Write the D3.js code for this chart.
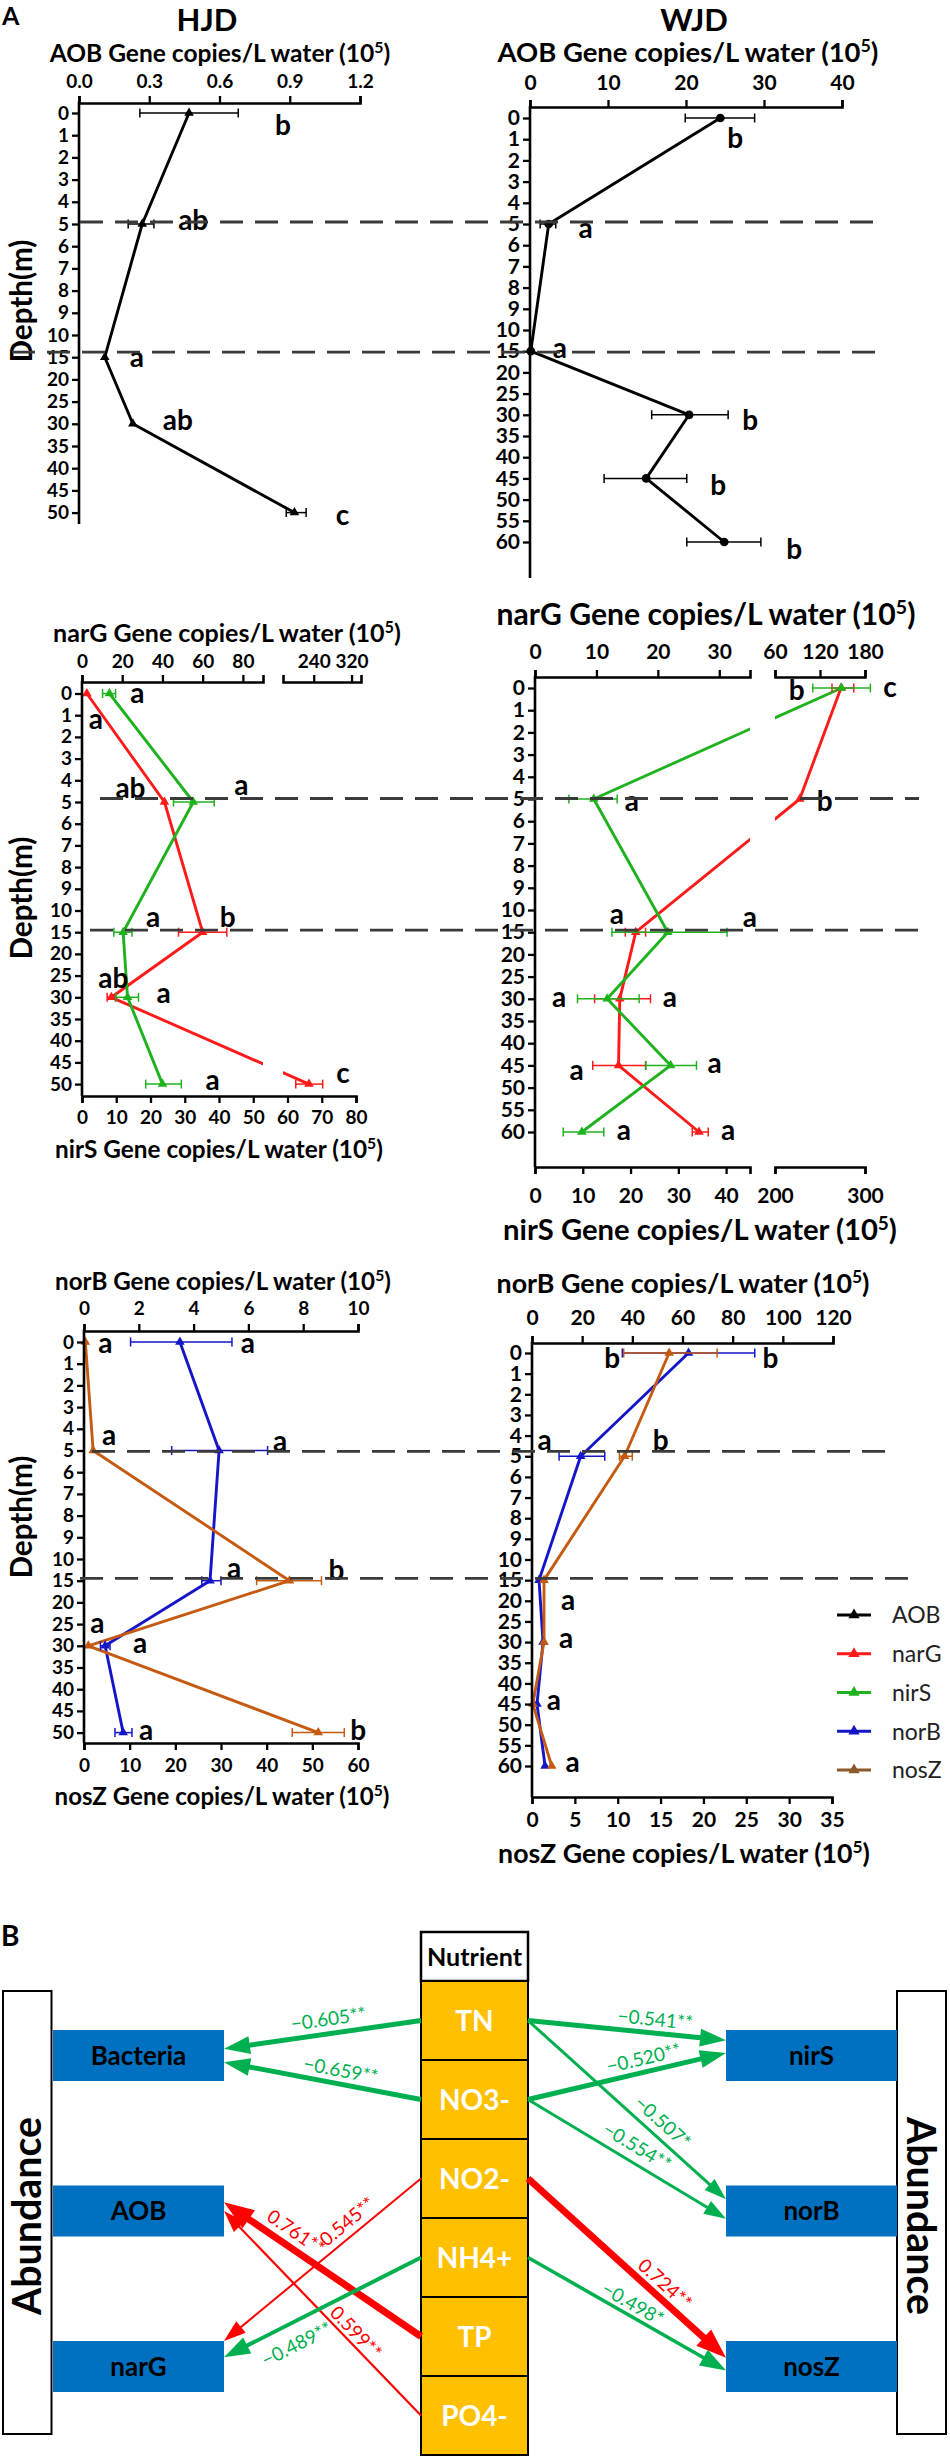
<!DOCTYPE html>
<html>
<head>
<meta charset="utf-8">
<script src="https://cdn.jsdelivr.net/npm/d3@7"></script>
<style>
    body { margin: 0; background: #fff; }
    text { font-family: Lato, "Open Sans", "DejaVu Sans", sans-serif; }
</style>
</head>
<body>
<svg id="chart" width="950" height="2458"></svg>
<script>
(function () {
    'use strict';

    // ---------- panel A data ----------
    var depthHJD = [0, 1, 2, 3, 4, 5, 6, 7, 8, 9, 10, 15, 20, 25, 30, 35, 40, 45, 50];
    var depthWJD = [0, 1, 2, 3, 4, 5, 6, 7, 8, 9, 10, 15, 20, 25, 30, 35, 40, 45, 50, 55, 60];
    var sampleHJD = [0, 5, 15, 30, 50];
    var sampleWJD = [0, 5, 15, 30, 45, 60];

    var aobHJD = [0.47, 0.27, 0.11, 0.23, 0.92];
    var aobHJDErr = [[0.26, 0.68], [0.21, 0.32], null, null, [0.885, 0.97]];
    var aobHJDSig = ["b", "ab", "a", "ab", "c"];

    var aobWJD = [24.4, 2.4, 0.1, 20.4, 14.9, 24.9];
    var aobWJDErr = [[19.9, 28.8], [1.3, 3.3], null, [15.6, 25.4], [9.5, 20.1], [20.1, 29.6]];
    var aobWJDSig = ["b", "a", "a", "b", "b", "b"];

    var narHJD = [2.4, 41, 60, 14.6, 230];
    var narHJDErr = [null, null, [48, 72], [12.5, 16.7], [202, 259]];
    var narHJDSig = ["a", "ab", "b", "ab", "c"];
    var nirHJD = [8, 32.5, 12, 13.3, 23.5];
    var nirHJDErr = [[6, 9.8], [26.7, 38.6], [9.3, 14.6], [9.9, 16.5], [18.6, 29]];
    var nirHJDSig = ["a", "a", "a", "a", "a"];

    var narWJD = [148, 93, 16.4, 13.8, 13.6, 26.7];
    var narWJDErr = [[136, 165], null, [14.7, 18], [9.7, 18.8], [9.4, 18], [25.6, 28.2]];
    var narWJDSig = ["c", "b", "a", "a", "a", "a"];
    var nirWJD = [274, 12.3, 27.8, 15.1, 28.4, 9.8];
    var nirWJDErr = [[242, 306], [7.1, 17.2], [16.1, 40.2], [8.9, 21.8], [23.2, 33.8], [5.9, 14.4]];
    var nirWJDSig = ["b", "a", "a", "a", "a", "a"];

    var norHJD = [3.5, 4.93, 4.6, 0.77, 1.43];
    var norHJDErr = [[1.7, 5.4], [3.2, 6.7], [4.3, 5.0], [0.6, 0.95], [1.13, 1.75]];
    var norHJDSig = ["a", "a", "a", "a", "a"];
    var nosHJD = [0.3, 2.0, 45, 0.95, 51.3];
    var nosHJDErr = [null, null, [37.8, 52], null, [45.6, 57]];
    var nosHJDSig = ["a", "a", "b", "a", "b"];

    var norWJD = [62.4, 19.4, 2.8, 4.4, 2.0, 5.2];
    var norWJDErr = [[36, 88.8], [10.8, 29], null, null, null, null];
    var norWJDSig = ["b", "a", "", "", "", ""];
    var nosWJD = [16.0, 10.8, 1.4, 1.4, 0.1, 2.3];
    var nosWJDErr = [[10.7, 21.6], [10.2, 11.7], null, null, null, null];
    var nosWJDSig = ["b", "b", "a", "a", "a", "a"];

    var legendNames = ["AOB", "narG", "nirS", "norB", "nosZ"];

    // ---------- panel B data ----------
    var nutrients = ["TN", "NO3-", "NO2-", "NH4+", "TP", "PO4-"];
    var genesLeft = ["Bacteria", "AOB", "narG"];
    var genesRight = ["nirS", "norB", "nosZ"];
    var linkFrom = ["TN", "NO3-", "NO2-", "TP", "PO4-", "NH4+", "TN", "NO3-", "TN", "NO3-", "NO2-", "NH4+"];
    var linkTo = ["Bacteria", "Bacteria", "narG", "AOB", "AOB", "narG", "nirS", "nirS", "norB", "norB", "nosZ", "nosZ"];
    var linkR = [-0.605, -0.659, 0.545, 0.761, 0.599, -0.489, -0.541, -0.520, -0.507, -0.554, 0.724, -0.498];
    var linkSig = ["**", "**", "**", "**", "**", "**", "**", "**", "*", "**", "**", "*"];

    // ---------- styles / layout ----------
    var C = { aob: "#000", nar: "#ff1a1a", nir: "#1fb21f", nor: "#1515c8", nos: "#c55a11" };
    var legendColors = [C.aob, C.nar, C.nir, C.nor, "#8b5a2b"];

    var offTL = [[94, 22], [51, 6], [32, 10], [45, 6], [48, 12]];
    var offTR = [[15, 30], [37, 14], [29, 7], [61, 15], [72, 17], [70, 17]];
    var offMLnar = [[9, 35], [-34, -4], [25, -5], [2, -9], [34, -1]];
    var offMLnir = [[28, 9], [48, -7], [30, -5], [36, 6], [50, 6]];
    var offMRnar = [[49, 9], [25, 12], [-19, -8], [50, 8], [-42, 15], [29, 8]];
    var offMRnir = [[-45, 12], [38, 12], [82, -5], [-48, 8], [44, 8], [42, 8]];
    var offBLnor = [[68, 11], [61, 0], [24, -3], [35, 7], [23, 7]];
    var offBLnos = [[20, 11], [16, -6], [47, -1], [9, -13], [40, 7]];
    var offBRnor = [[82, 15], [-36, -6], [0, 0], [0, 0], [0, 0], [0, 0]];
    var offBRnos = [[-57, 15], [36, -6], [24, 30], [22, 6], [21, 6], [21, 6]];

    var linkWidth = [5, 5, 2, 7, 2.2, 4, 5, 5, 3, 3, 7, 3.5];
    var linkEndFrac = [0.37, 0.63, 0.0, 0.33, 0.5, 0.32, 0.2, 0.45, 0.27, 0.65, 0.33, 0.58];
    var linkLabelT = [0.46, 0.42, 0.33, 0.68, 0.37, 0.68, 0.636, 0.6, 0.63, 0.51, 0.645, 0.5];
    var linkLabelOff = [15, 14, 14, 16, 11, -21, 14, 14, 15, 16, 14, 12];

    var svg = d3.select("#chart");

    function fitText(t, w) {
        var len = t.node().getComputedTextLength();
        var fs = parseFloat(t.attr("font-size"));
        t.attr("font-size", fs * w / len);
        return t;
    }

    function piecewise(segs) {
        var scales = segs.map(function (s) {
            return d3.scaleLinear().domain(s.domain).range(s.range);
        });
        return function (v) {
            for (var i = 0; i < segs.length; i++) {
                if (v <= segs[i].domain[1] || i === segs.length - 1) return scales[i](v);
            }
        };
    }

    function axisTitle(g, name, x, y, w) {
        var t = g.append("text")
            .attr("x", x).attr("y", y)
            .attr("text-anchor", "middle")
            .attr("font-weight", "bold")
            .attr("font-size", 20);
        t.append("tspan").text(name + " Gene copies/L water (10");
        t.append("tspan").text("5").attr("font-size", "0.65em").attr("dy", "-0.55em");
        t.append("tspan").text(")").attr("dy", "0.36em");
        fitText(t, w);
    }

    function styleAxis(a, fs) {
        a.attr("font-family", null);
        a.select(".domain").attr("stroke", "#000").attr("stroke-width", 2.6);
        a.selectAll(".tick line").attr("stroke", "#000").attr("stroke-width", 2.3);
        a.selectAll(".tick text")
            .attr("fill", "#000")
            .attr("font-size", fs)
            .attr("font-weight", "bold");
    }

    function drawXAxis(g, axis, orient, fs) {
        axis.segs.forEach(function (s) {
            var sc = d3.scaleLinear().domain(s.domain).range(s.range);
            var ax = (orient === "top" ? d3.axisTop(sc) : d3.axisBottom(sc))
                .tickValues(s.ticks)
                .tickSize(7)
                .tickSizeOuter(7)
                .tickPadding(axis.pad)
                .tickFormat(d3.format(s.fmt || "d"));
            var a = g.append("g")
                .attr("transform", "translate(0," + axis.y + ")")
                .call(ax);
            styleAxis(a, fs);
        });
        axisTitle(g, axis.title, axis.tx, axis.ty, axis.tw);
    }

    function drawPanel(p) {
        var g = svg.append("g");
        var y = d3.scalePoint()
            .domain(p.depths)
            .range([p.y0, p.y0 + (p.depths.length - 1) * p.step]);
        var xTop = piecewise(p.top.segs);
        var xBot = p.bottom ? piecewise(p.bottom.segs) : null;

        var series = p.series.map(function (s) {
            var x = s.axis === "top" ? xTop : xBot;
            var pts = p.samples.map(function (d, i) {
                return {
                    x: x(s.values[i]),
                    y: y(d),
                    lo: s.err[i] ? x(s.err[i][0]) : null,
                    hi: s.err[i] ? x(s.err[i][1]) : null,
                    sig: s.sig[i],
                    off: s.off[i]
                };
            });
            return { s: s, pts: pts };
        });

        // lines
        series.forEach(function (d) {
            g.append("path")
                .datum(d.pts)
                .attr("d", d3.line().x(function (q) { return q.x; }).y(function (q) { return q.y; }))
                .attr("fill", "none")
                .attr("stroke", d.s.color)
                .attr("stroke-width", 2.9)
                .attr("stroke-linejoin", "round");
        });

        // broken axis gap
        if (p.gap) {
            g.append("rect")
                .attr("x", p.gap[0]).attr("width", p.gap[1] - p.gap[0])
                .attr("y", p.yTop + 2).attr("height", p.yBottom - p.yTop - 4)
                .attr("fill", "#fff");
        }

        // error bars + markers
        series.forEach(function (d) {
            var eb = d.pts.filter(function (q) { return q.lo !== null; });
            var e = g.selectAll(null).data(eb).enter().append("g")
                .attr("stroke", d.s.color)
                .attr("stroke-width", 1.5);
            e.append("line")
                .attr("x1", function (q) { return q.lo; })
                .attr("x2", function (q) { return q.hi; })
                .attr("y1", function (q) { return q.y; })
                .attr("y2", function (q) { return q.y; });
            e.append("line")
                .attr("x1", function (q) { return q.lo; })
                .attr("x2", function (q) { return q.lo; })
                .attr("y1", function (q) { return q.y - 4.5; })
                .attr("y2", function (q) { return q.y + 4.5; });
            e.append("line")
                .attr("x1", function (q) { return q.hi; })
                .attr("x2", function (q) { return q.hi; })
                .attr("y1", function (q) { return q.y - 4.5; })
                .attr("y2", function (q) { return q.y + 4.5; });

            var sym = d.s.marker === "circle" ?
                d3.symbol(d3.symbolCircle, 60) : d3.symbol(d3.symbolTriangle, 40);
            g.selectAll(null).data(d.pts).enter().append("path")
                .attr("d", sym)
                .attr("transform", function (q) { return "translate(" + q.x + "," + q.y + ")"; })
                .attr("fill", d.s.color);
        });

        // axes
        drawXAxis(g, p.top, "top", p.tickFs);
        if (p.bottom) drawXAxis(g, p.bottom, "bottom", p.tickFs);

        var ya = g.append("g")
            .attr("transform", "translate(" + p.axisX + ",0)")
            .call(d3.axisLeft(y).tickSize(7).tickPadding(3));
        ya.select(".domain").remove();
        styleAxis(ya, p.tickFs);
        g.append("line")
            .attr("x1", p.axisX).attr("x2", p.axisX)
            .attr("y1", p.yTop - 1.3).attr("y2", p.yBottom)
            .attr("stroke", "#000").attr("stroke-width", 2.6);

        // significance letters
        series.forEach(function (d) {
            g.selectAll(null).data(d.pts.filter(function (q) { return q.sig; })).enter().append("text")
                .attr("x", function (q) { return q.x + q.off[0]; })
                .attr("y", function (q) { return q.y + q.off[1]; })
                .attr("text-anchor", "middle")
                .attr("font-size", 28)
                .attr("font-weight", "bold")
                .text(function (q) { return q.sig; });
        });

        // depth label (left-hand panels only)
        if (p.depthLabel) {
            var dl = g.append("text")
                .attr("transform", "translate(" + p.depthLabel[0] + "," + p.depthLabel[1] + ") rotate(-90)")
                .attr("text-anchor", "middle")
                .attr("dy", "0.35em")
                .attr("font-size", 26)
                .attr("font-weight", "bold")
                .text("Depth(m)");
            fitText(dl, 123);
        }

        return y;
    }

    var yTL = drawPanel({
        axisX: 79, yTop: 103, yBottom: 524, y0: 113, step: 22.2, depths: depthHJD, samples: sampleHJD,
        tickFs: 19, depthLabel: [22, 301],
        top: { y: 103, pad: 8, title: "AOB", tx: 220, ty: 62, tw: 341,
            segs: [{ domain: [0, 1.2], range: [79, 360], ticks: [0, 0.3, 0.6, 0.9, 1.2], fmt: ".1f" }] },
        series: [{ values: aobHJD, err: aobHJDErr, sig: aobHJDSig, off: offTL, color: C.aob, axis: "top" }]
    });

    var yTR = drawPanel({
        axisX: 530, yTop: 107, yBottom: 578, y0: 118, step: 21.2, depths: depthWJD, samples: sampleWJD,
        tickFs: 21,
        top: { y: 107, pad: 10, title: "AOB", tx: 688, ty: 62, tw: 381,
            segs: [{ domain: [0, 40], range: [530, 842], ticks: [0, 10, 20, 30, 40] }] },
        series: [{ values: aobWJD, err: aobWJDErr, sig: aobWJDSig, off: offTR, color: C.aob, axis: "top", marker: "circle" }]
    });

    var yML = drawPanel({
        axisX: 82, yTop: 682, yBottom: 1096, y0: 693.5, step: 21.7, depths: depthHJD, samples: sampleHJD,
        tickFs: 19, depthLabel: [22, 898], gap: [263, 283],
        top: { y: 682, pad: 7, title: "narG", tx: 227, ty: 642, tw: 348,
            segs: [{ domain: [0, 90], range: [82, 263], ticks: [0, 20, 40, 60, 80] },
                { domain: [175, 340], range: [283, 361], ticks: [240, 320] }] },
        bottom: { y: 1096, pad: 8, title: "nirS", tx: 219, ty: 1158, tw: 328,
            segs: [{ domain: [0, 80], range: [82, 356], ticks: [0, 10, 20, 30, 40, 50, 60, 70, 80] }] },
        series: [
            { values: narHJD, err: narHJDErr, sig: narHJDSig, off: offMLnar, color: C.nar, axis: "top" },
            { values: nirHJD, err: nirHJDErr, sig: nirHJDSig, off: offMLnir, color: C.nir, axis: "bottom" }
        ]
    });

    var yMR = drawPanel({
        axisX: 535, yTop: 677, yBottom: 1167, y0: 688, step: 22.2, depths: depthWJD, samples: sampleWJD,
        tickFs: 21, gap: [750, 775],
        top: { y: 677, pad: 11, title: "narG", tx: 706, ty: 625, tw: 419,
            segs: [{ domain: [0, 35], range: [535, 750], ticks: [0, 10, 20, 30] },
                { domain: [60, 180], range: [775, 865], ticks: [60, 120, 180] }] },
        bottom: { y: 1167, pad: 14, title: "nirS", tx: 700, ty: 1240, tw: 394,
            segs: [{ domain: [0, 45], range: [535, 750], ticks: [0, 10, 20, 30, 40] },
                { domain: [200, 300], range: [775, 865], ticks: [200, 300] }] },
        series: [
            { values: narWJD, err: narWJDErr, sig: narWJDSig, off: offMRnar, color: C.nar, axis: "top" },
            { values: nirWJD, err: nirWJDErr, sig: nirWJDSig, off: offMRnir, color: C.nir, axis: "bottom" }
        ]
    });

    var yBL = drawPanel({
        axisX: 84, yTop: 1331, yBottom: 1743, y0: 1342, step: 21.7, depths: depthHJD, samples: sampleHJD,
        tickFs: 19, depthLabel: [22, 1517],
        top: { y: 1331, pad: 9, title: "norB", tx: 223, ty: 1290, tw: 336,
            segs: [{ domain: [0, 10], range: [84, 358], ticks: [0, 2, 4, 6, 8, 10] }] },
        bottom: { y: 1743, pad: 9, title: "nosZ", tx: 222, ty: 1805, tw: 335,
            segs: [{ domain: [0, 60], range: [84, 358], ticks: [0, 10, 20, 30, 40, 50, 60] }] },
        series: [
            { values: norHJD, err: norHJDErr, sig: norHJDSig, off: offBLnor, color: C.nor, axis: "top" },
            { values: nosHJD, err: nosHJDErr, sig: nosHJDSig, off: offBLnos, color: C.nos, axis: "bottom" }
        ]
    });

    var yBR = drawPanel({
        axisX: 532, yTop: 1343, yBottom: 1797, y0: 1353, step: 20.65, depths: depthWJD, samples: sampleWJD,
        tickFs: 21,
        top: { y: 1343, pad: 11, title: "norB", tx: 683, ty: 1293, tw: 373,
            segs: [{ domain: [0, 120], range: [532, 833], ticks: [0, 20, 40, 60, 80, 100, 120] }] },
        bottom: { y: 1797, pad: 8, title: "nosZ", tx: 684, ty: 1863, tw: 372,
            segs: [{ domain: [0, 35], range: [532, 832], ticks: [0, 5, 10, 15, 20, 25, 30, 35] }] },
        series: [
            { values: norWJD, err: norWJDErr, sig: norWJDSig, off: offBRnor, color: C.nor, axis: "top" },
            { values: nosWJD, err: nosWJDErr, sig: nosWJDSig, off: offBRnos, color: C.nos, axis: "bottom" }
        ]
    });

    // dashed reference lines at 5 m and 15 m
    function dashed(yl, yr, depth, x1, x2) {
        var yy = (yl(depth) + yr(depth)) / 2 - 2;
        svg.append("line")
            .attr("x1", x1).attr("x2", x2)
            .attr("y1", yy).attr("y2", yy)
            .attr("stroke", "#3a3a3a")
            .attr("stroke-width", 2.8)
            .attr("stroke-dasharray", "23,12");
    }
    dashed(yTL, yTR, 5, 80, 885);
    dashed(yTL, yTR, 15, 12, 885);
    dashed(yML, yMR, 5, 100, 919);
    dashed(yML, yMR, 15, 90, 920);
    dashed(yBL, yBR, 5, 92, 897);
    dashed(yBL, yBR, 15, 80, 908);

    // headings
    svg.append("text").attr("x", 2).attr("y", 25).attr("font-size", 25).attr("font-weight", "bold").text("A");
    svg.append("text").attr("x", 207).attr("y", 31).attr("text-anchor", "middle")
        .attr("font-size", 31).attr("font-weight", "bold").text("HJD");
    svg.append("text").attr("x", 694).attr("y", 31).attr("text-anchor", "middle")
        .attr("font-size", 31).attr("font-weight", "bold").text("WJD");

    // legend
    var ly = d3.scalePoint().domain(legendNames).range([1615, 1770]);
    var lg = svg.selectAll(".leg").data(legendNames).enter().append("g")
        .attr("class", "leg")
        .attr("transform", function (d) { return "translate(0," + ly(d) + ")"; });
    lg.append("line")
        .attr("x1", 837).attr("x2", 871)
        .attr("stroke", function (d, i) { return legendColors[i]; })
        .attr("stroke-width", 3.2);
    lg.append("path")
        .attr("d", d3.symbol(d3.symbolTriangle, 55))
        .attr("transform", "translate(854,0)")
        .attr("fill", function (d, i) { return legendColors[i]; });
    lg.append("text")
        .attr("x", 892).attr("dy", "0.36em")
        .attr("font-size", 23)
        .attr("fill", "#222")
        .text(function (d) { return d; });

    // ---------- panel B ----------
    svg.append("text").attr("x", 1).attr("y", 1946).attr("font-size", 28).attr("font-weight", "bold").text("B");

    var nx0 = 421, nx1 = 528;
    var ny = d3.scaleBand().domain(nutrients).range([1981, 2455]);
    var gy = d3.scalePoint().domain([0, 1, 2]).range([2030, 2341]);
    var boxH = 51;
    var leftX = [53, 224], rightX = [726, 897];

    function abundance(x, w, rot) {
        svg.append("rect")
            .attr("x", x).attr("y", 1991).attr("width", w).attr("height", 443)
            .attr("fill", "#fff").attr("stroke", "#000").attr("stroke-width", 2);
        var t = svg.append("text")
            .attr("transform", "translate(" + (x + w / 2) + ",2216) rotate(" + rot + ")")
            .attr("text-anchor", "middle").attr("dy", "0.36em")
            .attr("font-size", 38).attr("font-weight", "bold")
            .text("Abundance");
        fitText(t, 198);
    }
    abundance(3, 48.5, -90);
    abundance(897, 49, 90);

    function geneBoxes(names, xr) {
        var b = svg.selectAll(null).data(names).enter().append("g")
            .attr("transform", function (d, i) { return "translate(" + xr[0] + "," + gy(i) + ")"; });
        b.append("rect")
            .attr("width", xr[1] - xr[0]).attr("height", boxH)
            .attr("fill", "#0070c0");
        b.append("text")
            .attr("x", (xr[1] - xr[0]) / 2).attr("y", boxH / 2).attr("dy", "0.36em")
            .attr("text-anchor", "middle")
            .attr("font-size", 26).attr("font-weight", "bold")
            .text(function (d) { return d; });
    }
    geneBoxes(genesLeft, leftX);
    geneBoxes(genesRight, rightX);

    svg.append("rect")
        .attr("x", nx0).attr("y", 1932).attr("width", nx1 - nx0).attr("height", 49)
        .attr("fill", "#fff").attr("stroke", "#000").attr("stroke-width", 2.5);
    fitText(svg.append("text").attr("x", (nx0 + nx1) / 2).attr("y", 1957).attr("dy", "0.36em")
        .attr("text-anchor", "middle").attr("font-size", 22).attr("font-weight", "bold")
        .text("Nutrient"), 95);
    var cells = svg.selectAll(".cell").data(nutrients).enter().append("g").attr("class", "cell");
    cells.append("rect")
        .attr("x", nx0).attr("width", nx1 - nx0)
        .attr("y", function (d) { return ny(d); })
        .attr("height", ny.bandwidth())
        .attr("fill", "#ffc000").attr("stroke", "#000").attr("stroke-width", 2);
    cells.append("text")
        .attr("x", (nx0 + nx1) / 2)
        .attr("y", function (d) { return ny(d) + ny.bandwidth() / 2; })
        .attr("dy", "0.36em")
        .attr("text-anchor", "middle")
        .attr("font-size", 28).attr("font-weight", "bold")
        .attr("fill", "#fff")
        .text(function (d) { return d; });

    // arrows
    linkFrom.forEach(function (from, i) {
        var to = linkTo[i];
        var li = genesLeft.indexOf(to);
        var left = li >= 0;
        var gi = left ? li : genesRight.indexOf(to);
        var x0 = left ? nx0 : nx1;
        var y0 = ny(from) + ny.bandwidth() / 2;
        var x1 = left ? leftX[1] : rightX[0];
        var y1 = gy(gi) + boxH * linkEndFrac[i];
        var color = linkR[i] < 0 ? "#00b050" : "#ff0000";
        var w = linkWidth[i];
        var dx = x1 - x0, dy = y1 - y0, len = Math.sqrt(dx * dx + dy * dy);
        var ux = dx / len, uy = dy / len;
        var hl = w >= 6 ? 30 : (w >= 3.5 ? 26 : 22);
        var hw = w >= 6 ? 22 : (w >= 3.5 ? 18 : 15);

        svg.append("line")
            .attr("x1", x0).attr("y1", y0)
            .attr("x2", x1 - ux * hl * 0.7).attr("y2", y1 - uy * hl * 0.7)
            .attr("stroke", color).attr("stroke-width", w);
        var bx = x1 - ux * hl, by = y1 - uy * hl;
        svg.append("path")
            .attr("d", "M" + x1 + "," + y1 +
                "L" + (bx - uy * hw / 2) + "," + (by + ux * hw / 2) +
                "L" + (bx + uy * hw / 2) + "," + (by - ux * hw / 2) + "Z")
            .attr("fill", color);

        var ang = Math.atan2(dy, dx) * 180 / Math.PI;
        if (ang > 90) ang -= 180;
        if (ang < -90) ang += 180;
        var rad = ang * Math.PI / 180;
        var t = linkLabelT[i], o = linkLabelOff[i];
        var lx = x0 + dx * t + Math.sin(rad) * o;
        var lyy = y0 + dy * t - Math.cos(rad) * o;
        svg.append("text")
            .attr("transform", "translate(" + lx + "," + lyy + ") rotate(" + ang + ")")
            .attr("text-anchor", "middle").attr("dy", "0.36em")
            .attr("font-size", 19)
            .attr("fill", color)
            .text(d3.format(".3f")(linkR[i]) + linkSig[i]);
    });
})();
</script>
</body>
</html>
